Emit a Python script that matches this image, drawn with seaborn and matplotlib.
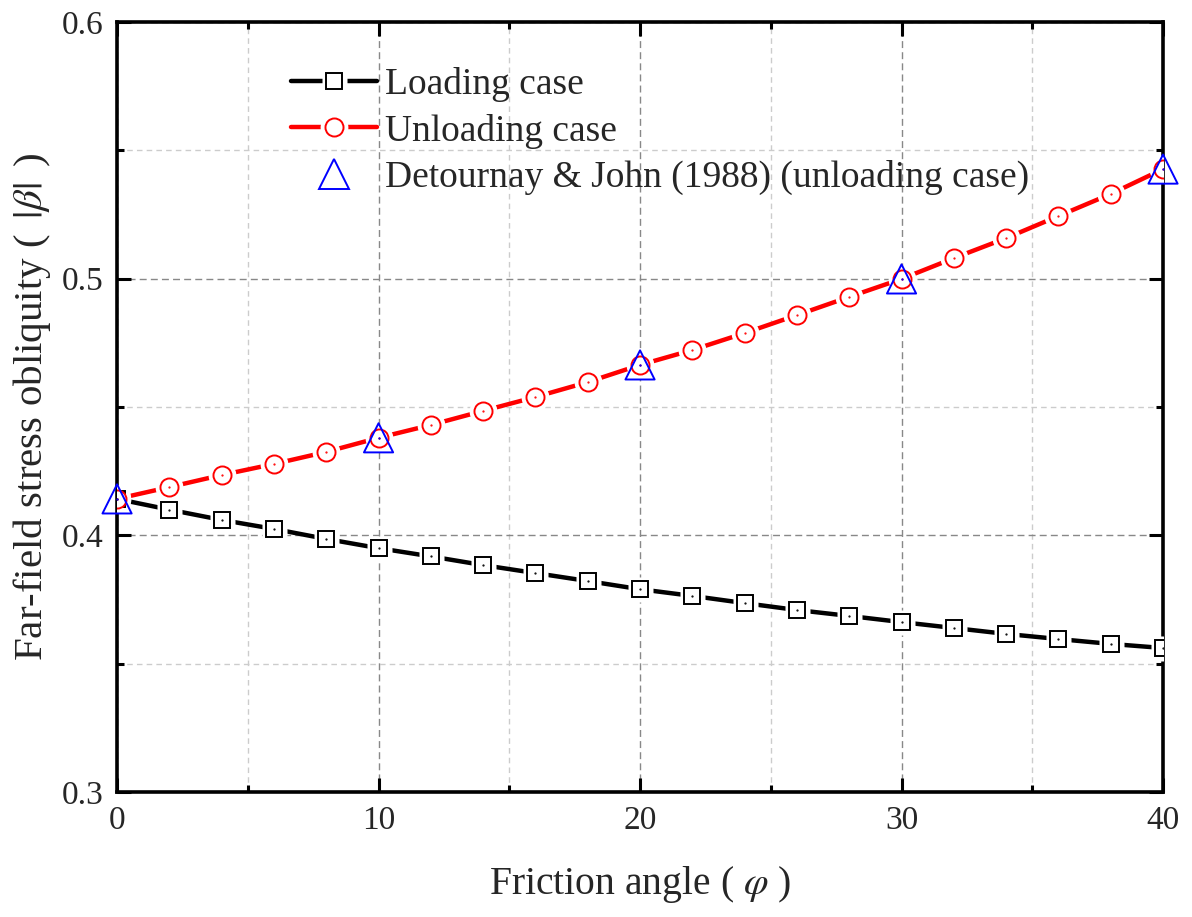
import numpy as np
import pandas as pd
import matplotlib
matplotlib.use("Agg")
import matplotlib.pyplot as plt
import seaborn as sns
from matplotlib.lines import Line2D
from matplotlib.legend_handler import HandlerTuple
from matplotlib.ticker import MultipleLocator

# ---- data ----
phi = [0, 2, 4, 6, 8, 10, 12, 14, 16, 18, 20, 22, 24, 26, 28, 30, 32, 34, 36, 38, 40]
loading = [0.4142, 0.4100, 0.4060, 0.4025, 0.3986, 0.3950, 0.3918, 0.3884, 0.3853, 0.3822,
           0.3790, 0.3764, 0.3736, 0.3709, 0.3686, 0.3662, 0.3639, 0.3616, 0.3596, 0.3577, 0.3561]
unloading = [0.4142, 0.4188, 0.4235, 0.4278, 0.4325, 0.4380, 0.4430, 0.4485, 0.4539, 0.4597,
             0.4664, 0.4722, 0.4788, 0.4858, 0.4929, 0.4999, 0.5080, 0.5158, 0.5244, 0.5330, 0.5427]
dj_phi = [0, 10, 20, 30, 40]
dj_beta = [0.4142, 0.4380, 0.4664, 0.4999, 0.5427]

labels = ["Loading case", "Unloading case", "Detournay & John (1988) (unloading case)"]
xlabel = r"Friction angle ( $\varphi$ )"
ylabel = r"Far-field stress obliquity ( $\,|\beta|\,$ )"

sns.set_style("white")
plt.rcParams["font.family"] = ["Liberation Serif", "DejaVu Serif"]
plt.rcParams["mathtext.fontset"] = "stix"

fig = plt.figure(figsize=(11.92, 9.17), dpi=100)
ax = fig.add_axes([0.0982, 0.1363, 0.8775, 0.8397])

df = pd.DataFrame({"phi": phi, "loading": loading, "unloading": unloading})
dj = pd.DataFrame({"phi": dj_phi, "beta": dj_beta})

lw = 3.2
specs = [("loading", "black", "s", 11.5, 18), ("unloading", "red", "o", 13, 20)]
for col, c, m, ms, gap in specs:
    sns.lineplot(data=df, x="phi", y=col, ax=ax, color=c, lw=lw, zorder=3, legend=False)
    # white knock-out around markers (Origin-style gap)
    ax.plot(df["phi"], df[col], ls="none", marker=m, ms=gap, mfc="white", mec="none", zorder=4)
    ax.plot(df["phi"], df[col], ls="none", marker=m, ms=ms, mfc="white", mec=c, mew=1.4, zorder=5)
    ax.plot(df["phi"], df[col], ls="none", marker=".", ms=1.2, color=c, zorder=6)

sns.scatterplot(data=dj, x="phi", y="beta", ax=ax, marker="^", s=21**2,
                facecolor="none", edgecolor="blue", linewidth=1.4, zorder=7, clip_on=False)
ax.plot(dj["phi"], dj["beta"], ls="none", marker=".", ms=1.2, color="blue", zorder=8, clip_on=False)

ax.set_xlim(0, 40)
ax.set_ylim(0.3, 0.6)
ax.xaxis.set_major_locator(MultipleLocator(10))
ax.xaxis.set_minor_locator(MultipleLocator(5))
ax.yaxis.set_major_locator(MultipleLocator(0.1))
ax.yaxis.set_minor_locator(MultipleLocator(0.05))
ax.set_xticks([0, 10, 20, 30, 40])
ax.set_xticklabels(["0", "10", "20", "30", "40"])
ax.set_yticks([0.3, 0.4, 0.5, 0.6])
ax.set_yticklabels(["0.3", "0.4", "0.5", "0.6"])

ax.grid(True, which="major", color="#888888", ls=(0, (5, 3)), lw=1.0, zorder=0)
ax.grid(True, which="minor", color="#cccccc", ls=(0, (4, 3)), lw=1.0, zorder=0)
ax.set_axisbelow(True)

ax.tick_params(which="both", direction="in", top=True, right=True, bottom=True, left=True,
               labelsize=24, pad=10, color="black")
ax.tick_params(which="major", length=10, width=2.2)
ax.tick_params(which="minor", length=5, width=2.2)
for s in ax.spines.values():
    s.set_color("black")
    s.set_linewidth(2.6)
    s.set_visible(True)

ax.set_xlabel(xlabel, fontsize=28.5, labelpad=20)
ax.set_ylabel(ylabel, fontsize=29.5, labelpad=6)

h1 = (Line2D([], [], color="black", lw=lw),
      Line2D([], [], ls="none", marker="s", ms=18, mfc="white", mec="none"),
      Line2D([], [], ls="none", marker="s", ms=11.5, mfc="white", mec="black", mew=1.4))
h2 = (Line2D([], [], color="red", lw=lw),
      Line2D([], [], ls="none", marker="o", ms=20, mfc="white", mec="none"),
      Line2D([], [], ls="none", marker="o", ms=13, mfc="white", mec="red", mew=1.4))
h3 = Line2D([], [], ls="none", marker="^", ms=21, mfc="none", mec="blue", mew=1.4)
ax.legend([h1, h2, h3], labels, handler_map={tuple: HandlerTuple(ndivide=1)},
          loc="upper left", bbox_to_anchor=(0.134, 0.985), frameon=False, fontsize=27,
          handlelength=2.3, handletextpad=0.2, labelspacing=0.3, numpoints=1)

fig.savefig("out.png", dpi=100)
